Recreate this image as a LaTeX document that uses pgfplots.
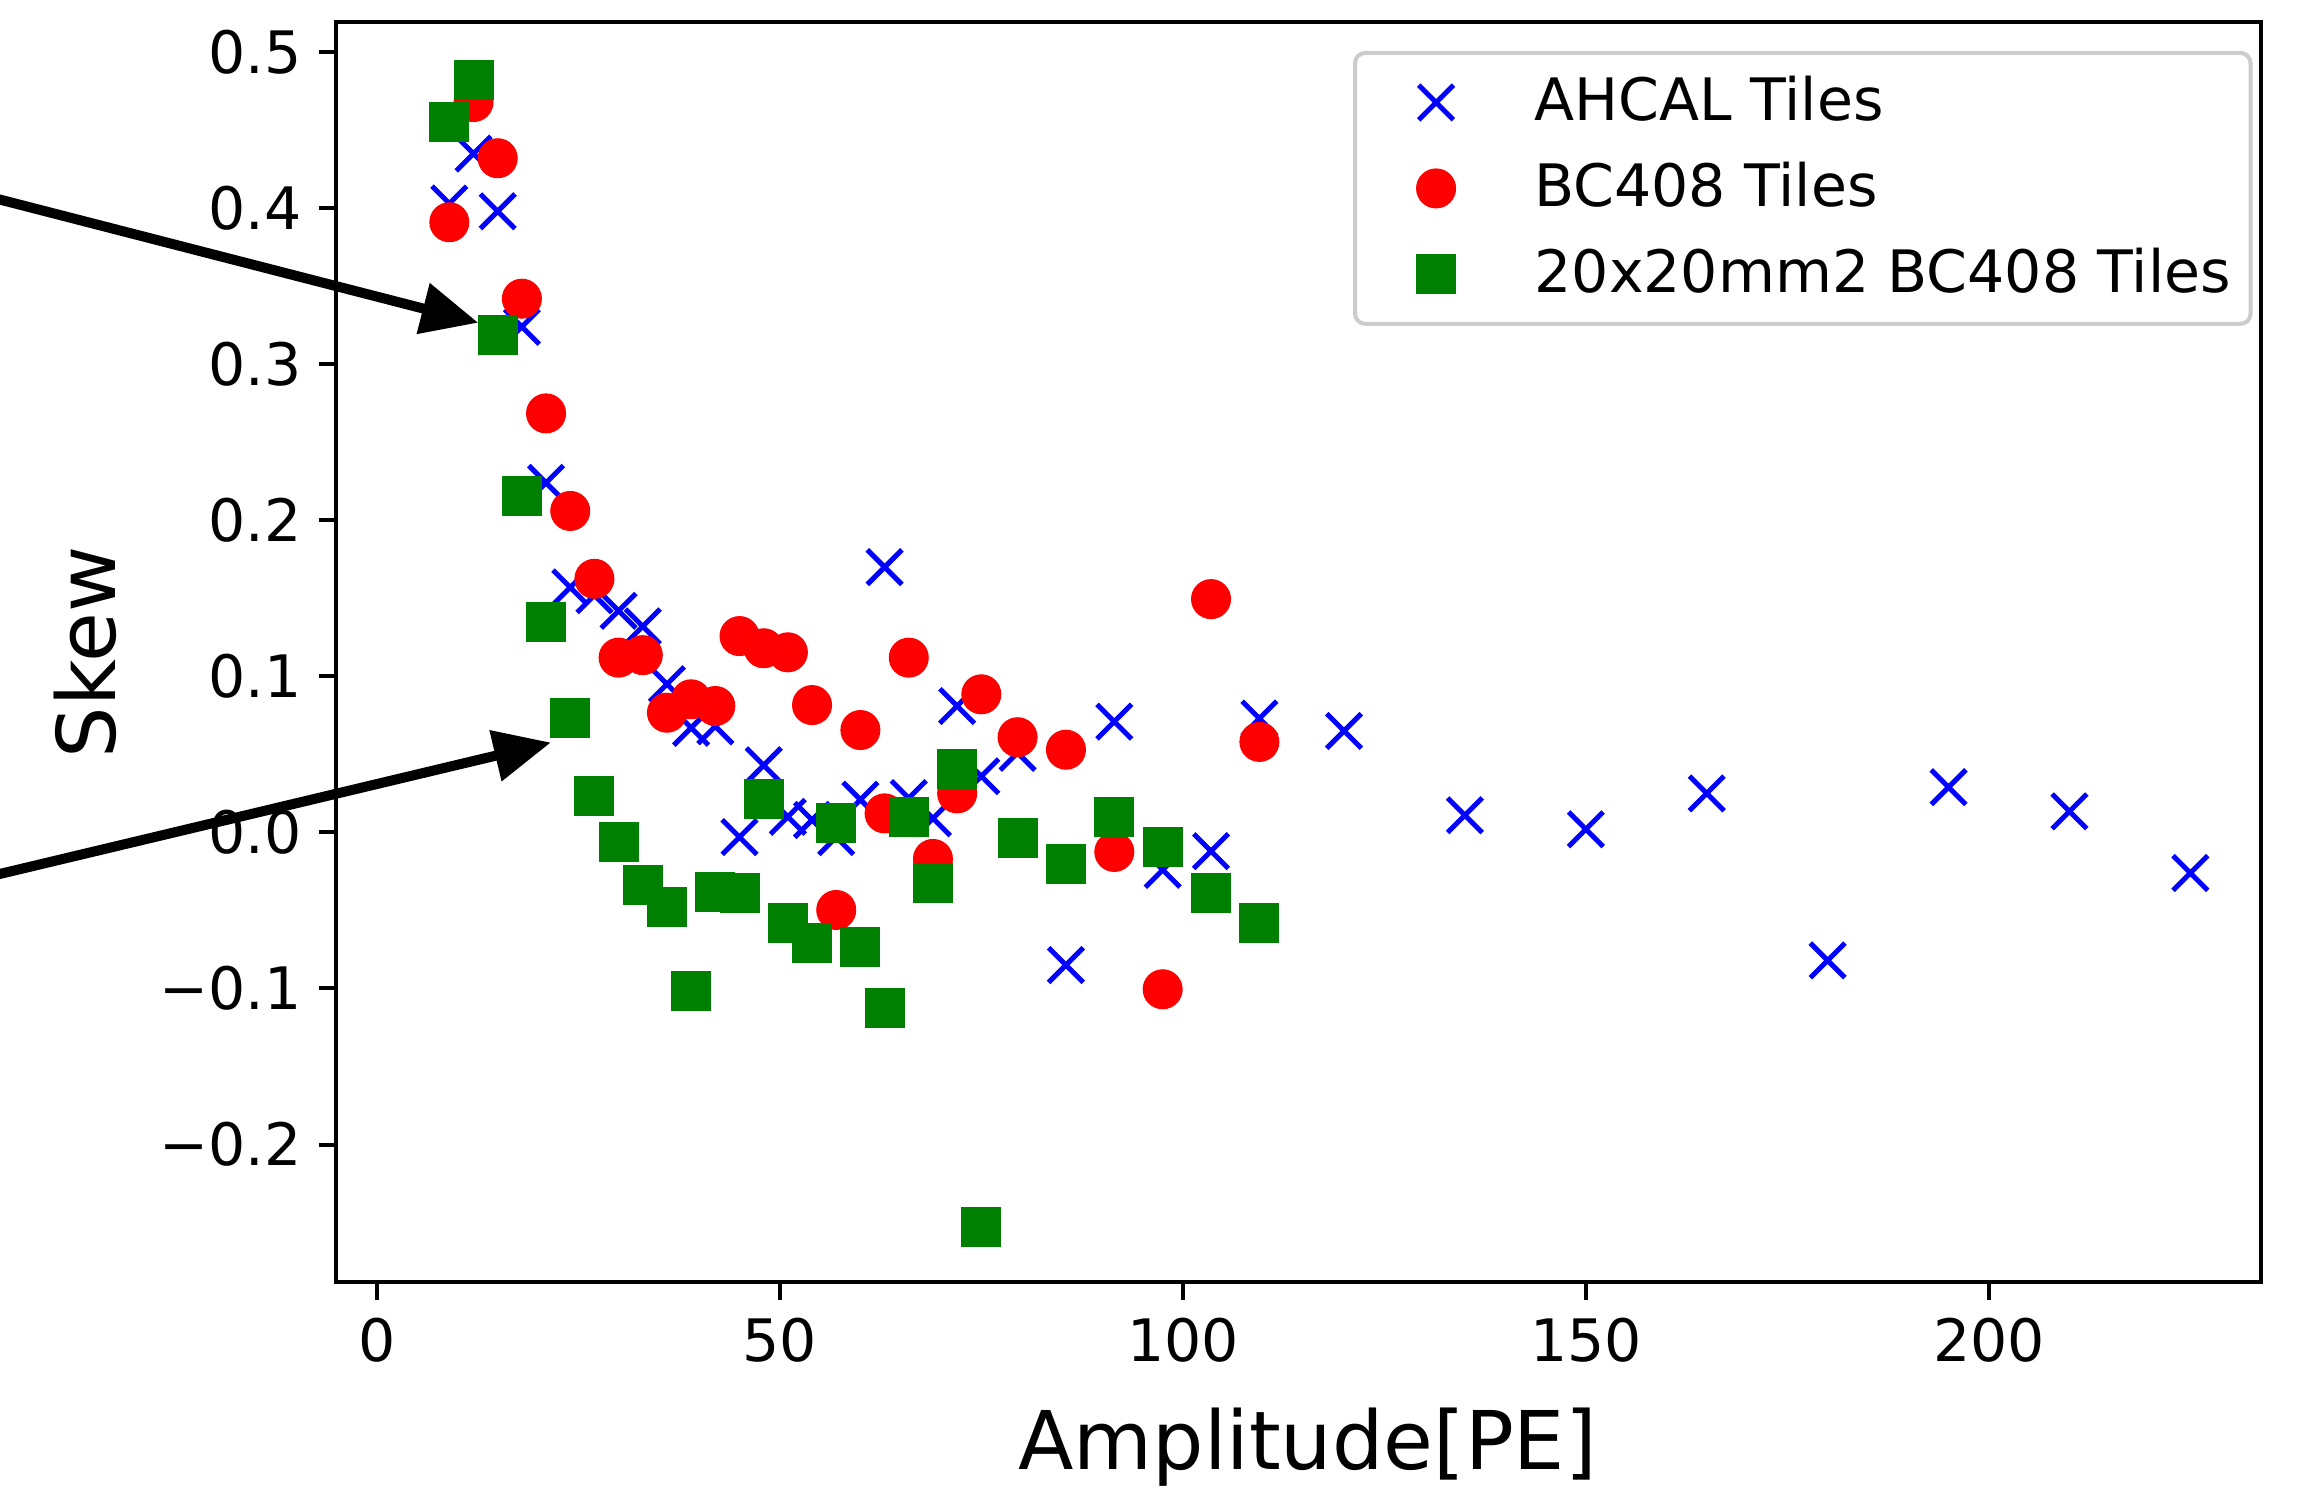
\documentclass[border=0pt]{standalone}
\usepackage{fontspec}
\setmainfont{DejaVu Sans}
\usepackage{pgfplots}
\pgfplotsset{compat=1.18}
\usetikzlibrary{arrows.meta}
\definecolor{mplgreen}{RGB}{0,128,0}

\begin{document}
\begin{tikzpicture}
\begin{axis}[
    width=384.8pt, height=252.1pt, scale only axis,
    xmin=-5, xmax=233.7, ymin=-0.2884, ymax=0.5193,
    axis line style={line width=0.8pt},
    tick style={line width=0.8pt, black},
    tick align=outside, tick pos=left,
    major tick length=3.5pt,
    xtick={0,50,100,150,200},
    ytick={-0.2,-0.1,0,0.1,0.2,0.3,0.4,0.5},
    yticklabels={−0.2,−0.1,0.0,0.1,0.2,0.3,0.4,0.5},
    ticklabel style={font=\fontsize{11.7}{14}\selectfont},
    /pgf/number format/assume math mode=true,
    xlabel={Amplitude[PE]}, ylabel={Skew},
    label style={font=\fontsize{16.2}{19}\selectfont},
    xlabel style={at={([xshift=1.8pt,yshift=-33pt]axis description cs:0.5,0)}, anchor=center},
    ylabel style={at={([xshift=-50.3pt]axis description cs:0,0.5)}, anchor=center},
    legend cell align=left,
    legend image code/.code={
        \path[draw=none, fill=none] (-12.3pt,-3pt) rectangle (19.7pt,3pt);
        \draw[#1] plot coordinates {(0pt,0pt)};
    },
    legend style={font=\fontsize{11.7}{14}\selectfont, draw=black!20, line width=0.8pt,
      rounded corners=2pt, fill=white, at={(1,1)}, anchor=north east,
      xshift=-1.6pt, yshift=-5.8pt, inner xsep=3.9pt, inner ysep=4.7pt,
      row sep=6.8pt, nodes={inner sep=0pt}},
]
% AHCAL tiles
\addplot[only marks, mark=x, mark size=4.9pt, blue,
    mark options={line width=1pt, sharp corners}] coordinates {
    (9,0.403) (12,0.435) (15,0.398) (18,0.324) (21,0.224) (24,0.157) (27,0.152)
    (30,0.142) (33,0.132) (36,0.095) (39,0.067) (42,0.068) (45,-0.003) (48,0.043)
    (51,0.010) (54,0.008) (57,-0.003) (60,0.021) (63,0.170) (66,0.022) (69,0.009)
    (72,0.081) (75,0.036) (79.5,0.051) (85.5,-0.085) (91.5,0.071) (97.5,-0.024)
    (103.5,-0.012) (109.5,0.073) (120,0.065) (135,0.011) (150,0.002) (165,0.025)
    (180,-0.082) (195,0.029) (210,0.0135) (225,-0.026)};
\addlegendentry{AHCAL Tiles}
% BC408 tiles
\addplot[only marks, mark=*, mark size=3.9pt,
    mark options={draw=red, fill=red, line width=0.2pt, sharp corners}] coordinates {
    (9,0.391) (12,0.468) (15,0.432) (18,0.342) (21,0.2685) (24,0.206) (27,0.1625)
    (30,0.112) (33,0.1136) (36,0.0767) (39,0.0853) (42,0.081) (45,0.1258) (48,0.118)
    (51,0.1154) (54,0.0816) (57,-0.0497) (60,0.0656) (63,0.0122) (66,0.112) (69,-0.017)
    (72,0.025) (75,0.0885) (79.5,0.061) (85.5,0.053) (91.5,-0.0125) (97.5,-0.1005)
    (103.5,0.1495) (109.5,0.058)};
\addlegendentry{BC408 Tiles}
% 20x20 mm2 BC408 tiles
\addplot[only marks, mark=square*, mark size=3.9pt,
    mark options={draw=mplgreen, fill=mplgreen, line width=0.2pt, sharp corners}] coordinates {
    (9,0.455) (12,0.482) (15,0.319) (18,0.2155) (21,0.1348) (24,0.0735) (27,0.0235)
    (30,-0.0062) (33,-0.0335) (36,-0.048) (39,-0.1018) (42,-0.038) (45,-0.039) (48,0.0214)
    (51,-0.0578) (54,-0.071) (57,0.0062) (60,-0.0732) (63,-0.1123) (66,0.01) (69,-0.0326)
    (72,0.0404) (75,-0.253) (79.5,-0.0038) (85.5,-0.0202) (91.5,0.0101) (97.5,-0.0095)
    (103.5,-0.039) (109.5,-0.0582)};
\addlegendentry{20x20mm2 BC408 Tiles}

\coordinate (sw) at (rel axis cs:0,0);
\coordinate (ne) at (rel axis cs:1,1);
\coordinate (a1s) at (axis cs:-56,0.4178);
\coordinate (a1t) at (axis cs:12.6,0.3266);
\coordinate (a2s) at (axis cs:-56,-0.0380);
\coordinate (a2t) at (axis cs:21.6,0.0576);
\end{axis}
\draw[line width=2pt, -{Triangle[length=11.4pt,width=10pt]}] (a1s) -- (a1t);
\draw[line width=2pt, -{Triangle[length=11.4pt,width=10pt]}] (a2s) -- (a2t);
\pgfresetboundingbox
\path[use as bounding box] ([shift={(-67.3pt,-43.6pt)}]sw) rectangle ([shift={(9.1pt,4.4pt)}]ne);
\end{tikzpicture}
\end{document}
